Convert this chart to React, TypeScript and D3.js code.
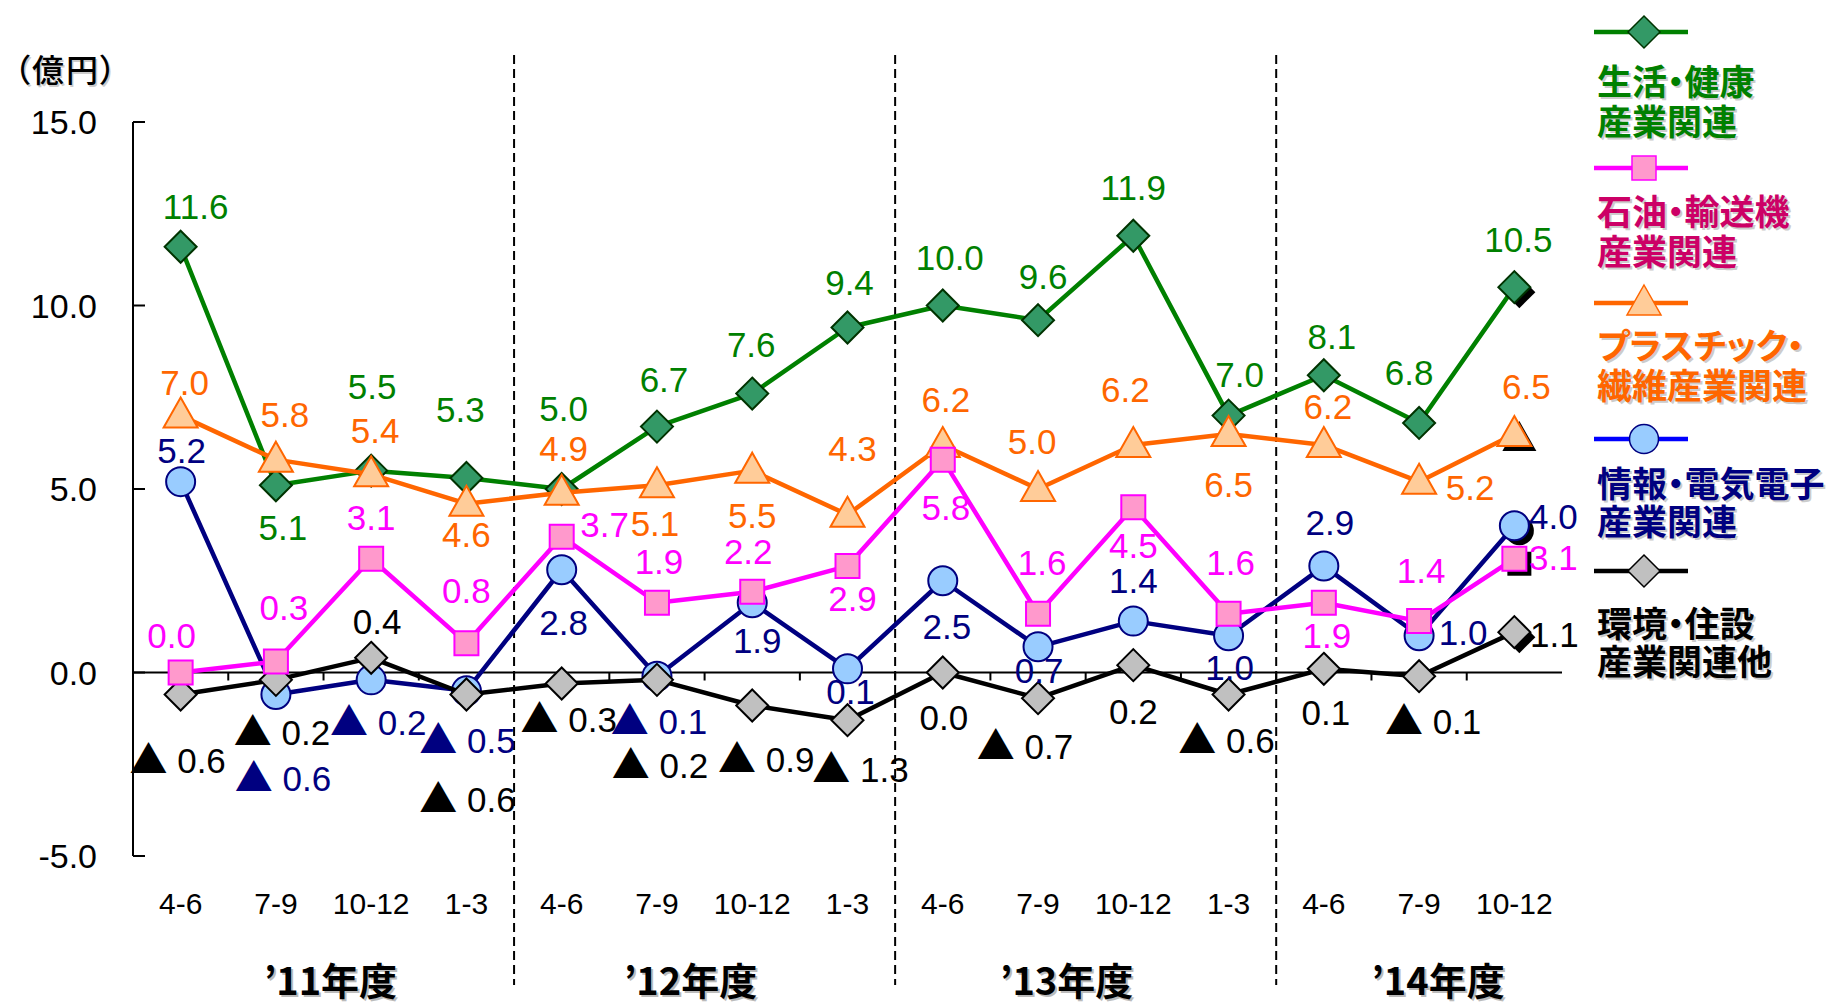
import React from "react";
import * as d3 from "d3";

// quarters and fiscal years on the x axis
const quarters = ["4-6", "7-9", "10-12", "1-3", "4-6", "7-9", "10-12", "1-3", "4-6", "7-9", "10-12", "1-3", "4-6", "7-9", "10-12"];
const fiscalYears = ["’11年度", "’12年度", "’13年度", "’14年度"];
const yearSpans = [4, 4, 4, 3];
const yTicks = [15, 10, 5, 0, -5];

// values (億円), negatives shown with ▲
const lifeHealth = [11.6, 5.1, 5.5, 5.3, 5.0, 6.7, 7.6, 9.4, 10.0, 9.6, 11.9, 7.0, 8.1, 6.8, 10.5];
const oilTransport = [0.0, 0.3, 3.1, 0.8, 3.7, 1.9, 2.2, 2.9, 5.8, 1.6, 4.5, 1.6, 1.9, 1.4, 3.1];
const plasticFiber = [7.0, 5.8, 5.4, 4.6, 4.9, 5.1, 5.5, 4.3, 6.2, 5.0, 6.2, 6.5, 6.2, 5.2, 6.5];
const infoElec = [5.2, -0.6, -0.2, -0.5, 2.8, -0.1, 1.9, 0.1, 2.5, 0.7, 1.4, 1.0, 2.9, 1.0, 4.0];
const envHousing = [-0.6, -0.2, 0.4, -0.6, -0.3, -0.2, -0.9, -1.3, 0.0, -0.7, 0.2, -0.6, 0.1, -0.1, 1.1];

// hand placed label offsets (px from the point)
const greenOff = [[15, -40], [7, 43], [1, -84], [-6, -68], [2, -80], [7, -47], [-1, -49], [2, -45], [7, -48], [5, -43], [0, -48], [11, -41], [8, -38], [-10, -50], [4, -47]];
const pinkOff = [[-9, -37], [8, -53], [0, -41], [0, -52], [43, -12], [2, -41], [-4, -40], [5, 33], [3, 48], [4, -51], [0, 39], [2, -51], [3, 33], [2, -50], [39, -1]];
const orangeOff = [[4, -33], [9, -45], [4, -43], [0, 31], [2, -44], [-2, 39], [0, 45], [5, -66], [3, -45], [-6, -47], [-8, -55], [0, 51], [4, -38], [51, 6], [12, -47]];
const blueOff = [[1, -31], [7, 84], [7, 43], [1, 50], [2, 53], [2, 46], [5, 38], [3, 23], [4, 46], [1, 24], [0, -40], [1, 32], [6, -43], [44, -3], [39, -9]];
const blackOff = [[-3, 66], [6, 53], [6, -36], [1, 105], [7, 36], [3, 86], [14, 54], [13, 50], [1, 45], [-13, 49], [0, 47], [-2, 46], [2, 44], [14, 46], [40, 3]];
const yearShift = [7, -14, -19, 19];

const NUM_FONT = "'Liberation Sans', Arial, sans-serif";
const JP_FONT = "'Noto Sans CJK JP', sans-serif";
const palt = { fontFeatureSettings: "'palt' 1" };

const series = [
  { key: "info", values: infoElec, off: blueOff, line: "#000080", legendLine: "#0000FF", fill: "#99CCFF", stroke: "#000080", label: "#000080", text: "#000080", marker: "circle", names: ["情報・電気電子", "産業関連"], legendY: 439, textY: [485, 523] },
  { key: "env", values: envHousing, off: blackOff, line: "#000000", legendLine: "#000000", fill: "#C0C0C0", stroke: "#000000", label: "#000000", text: "#000000", marker: "diamond", names: ["環境・住設", "産業関連他"], legendY: 571, textY: [625, 663] },
  { key: "life", values: lifeHealth, off: greenOff, line: "#008000", legendLine: "#008000", fill: "#339966", stroke: "#003300", label: "#008000", text: "#008000", marker: "diamond", names: ["生活・健康", "産業関連"], legendY: 32, textY: [83, 123] },
  { key: "plastic", values: plasticFiber, off: orangeOff, line: "#FF6600", legendLine: "#FF6600", fill: "#FFCC99", stroke: "#FF6600", label: "#FF6600", text: "#FF6600", marker: "triangle", names: ["プラスチック・", "繊維産業関連"], legendY: 303, textY: [347, 387] },
  { key: "oil", values: oilTransport, off: pinkOff, line: "#FF00FF", legendLine: "#FF00FF", fill: "#FF99CC", stroke: "#FF00FF", label: "#FF00FF", text: "#CC0066", marker: "square", names: ["石油・輸送機", "産業関連"], legendY: 168, textY: [213, 253] },
];
const legendOrder = ["life", "oil", "plastic", "info", "env"];

const markerPath = (type: string, cx: number, cy: number) => {
  if (type === "diamond") return `M${cx},${cy - 16}L${cx + 16},${cy}L${cx},${cy + 16}L${cx - 16},${cy}Z`;
  if (type === "square") return `M${cx - 12},${cy - 12}h24v24h-24Z`;
  if (type === "triangle") return `M${cx},${cy - 18}L${cx + 17},${cy + 12}L${cx - 17},${cy + 12}Z`;
  return `M${cx - 14.5},${cy}a14.5,14.5 0 1,0 29,0a14.5,14.5 0 1,0 -29,0Z`;
};

const fmt = (v: number) => d3.format(".1f")(v).replace("−", "-");

export default function App() {
  const width = 1841;
  const height = 1007;
  const x = d3.scaleBand<number>().domain(d3.range(quarters.length)).range([133, 1562]);
  const y = d3.scaleLinear().domain([-5, 15]).range([856, 122]);
  const cx = (i: number) => (x(i) as number) + x.bandwidth() / 2;
  const line = d3.line<number>().x((d, i) => cx(i)).y((d) => y(d));
  const last = quarters.length - 1;

  // boundaries of the fiscal years
  const starts = yearSpans.map((s, i) => d3.sum(yearSpans.slice(0, i)));

  return (
    <svg width={width} height={height} style={{ position: "absolute", left: 0, top: 0, background: "#fff" }}>
      {/* unit */}
      <text x={14} y={82} fontFamily={JP_FONT} fontSize={32} fontWeight={500} fill="#ccc" style={palt} textLength={102} lengthAdjust="spacing" transform="translate(1.5,1.5)">（億円）</text>
      <text x={14} y={82} fontFamily={JP_FONT} fontSize={32} fontWeight={500} fill="#000" style={palt} textLength={102} lengthAdjust="spacing">（億円）</text>

      {/* dashed year separators */}
      {starts.slice(1).map((s) => (
        <line key={s} x1={x(s)} x2={x(s)} y1={55} y2={985} stroke="#000" strokeWidth={2} strokeDasharray="9,5" />
      ))}

      {/* y axis */}
      <line x1={133} x2={133} y1={y(15)} y2={y(-5)} stroke="#000" strokeWidth={2} />
      {yTicks.map((t) => (
        <g key={t}>
          <line x1={133} x2={145} y1={y(t)} y2={y(t)} stroke="#000" strokeWidth={2} />
          <text x={97} y={y(t) + 12} textAnchor="end" fontFamily={NUM_FONT} fontSize={34} fill="#000">{fmt(t)}</text>
        </g>
      ))}

      {/* x axis at zero */}
      <line x1={133} x2={1562} y1={y(0)} y2={y(0)} stroke="#000" strokeWidth={2} />
      {d3.range(1, quarters.length).map((i) => (
        <line key={i} x1={x(i)} x2={x(i)} y1={y(0)} y2={y(0) + 8} stroke="#000" strokeWidth={2} />
      ))}
      {quarters.map((q, i) => (
        <text key={i} x={cx(i)} y={914} textAnchor="middle" fontFamily={NUM_FONT} fontSize={30} fill="#000">{q}</text>
      ))}
      {fiscalYears.map((fy, i) => {
        const mid = (x(starts[i]) as number) + (yearSpans[i] * x.bandwidth()) / 2 + yearShift[i];
        return (
          <g key={fy}>
            <text x={mid + 2} y={997} textAnchor="middle" fontFamily={JP_FONT} fontWeight={700} fontSize={38} fill="#bbb">{fy}</text>
            <text x={mid} y={995} textAnchor="middle" fontFamily={JP_FONT} fontWeight={700} fontSize={38} fill="#000">{fy}</text>
          </g>
        );
      })}

      {/* series */}
      {series.map((s) => (
        <g key={s.key}>
          <path d={line(s.values) as string} fill="none" stroke={s.line} strokeWidth={4.5} strokeLinejoin="round" />
          <path d={markerPath(s.marker, cx(last) + 5, y(s.values[last]) + 5)} fill="#000" />
          {s.values.map((v, i) => (
            <path key={i} d={markerPath(s.marker, cx(i), y(v))} fill={s.fill} stroke={s.stroke} strokeWidth={2} />
          ))}
        </g>
      ))}

      {/* data labels */}
      {series.map((s) => (
        <g key={s.key + "-lab"}>
          {s.values.map((v, i) => {
            const lx = cx(i) + s.off[i][0];
            const ly = y(v) + s.off[i][1] + 12;
            return v < 0 ? (
              <text key={i} x={lx} y={ly} textAnchor="middle" fontFamily={NUM_FONT} fontSize={35} fill={s.label}>
                <tspan fontFamily={JP_FONT} fontSize={38}>▲</tspan>
                <tspan> {fmt(-v)}</tspan>
              </text>
            ) : (
              <text key={i} x={lx} y={ly} textAnchor="middle" fontFamily={NUM_FONT} fontSize={35} fill={s.label}>{fmt(v)}</text>
            );
          })}
        </g>
      ))}

      {/* legend */}
      {legendOrder.map((k) => {
        const s = series.find((d) => d.key === k)!;
        return (
          <g key={k + "-leg"}>
            <line x1={1594} x2={1688} y1={s.legendY} y2={s.legendY} stroke={s.legendLine} strokeWidth={4.5} />
            <path d={markerPath(s.marker, 1644, s.legendY)} fill={s.fill} stroke={s.stroke} strokeWidth={1.5} />
            {s.names.map((n, j) => (
              <g key={j}>
                <text x={1599} y={s.textY[j] + 14} fontFamily={JP_FONT} fontWeight={700} fontSize={35} fill="#ccc" style={palt}>{n}</text>
                <text x={1597} y={s.textY[j] + 12} fontFamily={JP_FONT} fontWeight={700} fontSize={35} fill={s.text} style={palt}>{n}</text>
              </g>
            ))}
          </g>
        );
      })}
    </svg>
  );
}
